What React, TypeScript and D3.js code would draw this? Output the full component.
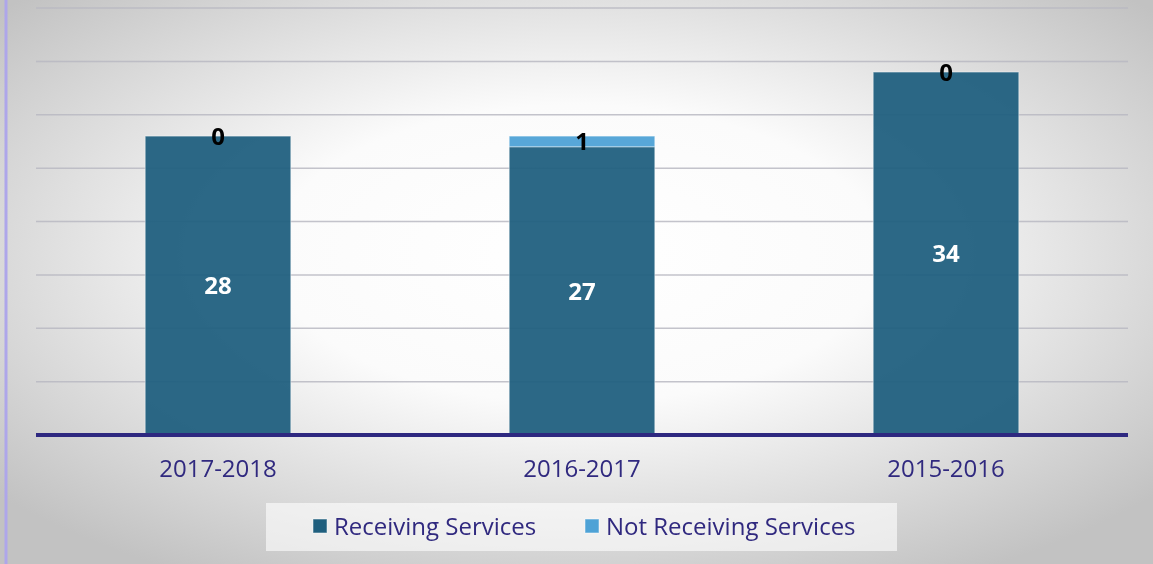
import { useEffect, useRef } from 'react';
import * as d3 from 'd3';

const years = ['2017-2018', '2016-2017', '2015-2016'];
const receiving = [28, 27, 34];
const notReceiving = [0, 1, 0];
const seriesNames = ['Receiving Services', 'Not Receiving Services'];
const seriesColors = ['#1f5f7e', '#4ea2d6'];
const yTicks = [0, 5, 10, 15, 20, 25, 30, 35, 40];

export default function App() {
  const svgRef = useRef<SVGSVGElement>(null);

  useEffect(() => {
    const W = 1153;
    const H = 564;
    const margin = { top: 8, right: 25, bottom: 129, left: 36 };
    const width = W - margin.left - margin.right;
    const height = H - margin.top - margin.bottom;

    const root = d3.select(svgRef.current);
    root.selectAll('*').remove();
    root.attr('width', W).attr('height', H).attr('viewBox', `0 0 ${W} ${H}`);

    // background gradient
    const defs = root.append('defs');
    const grad = defs
      .append('radialGradient')
      .attr('id', 'bg')
      .attr('cx', '0.5')
      .attr('cy', '0.45')
      .attr('r', '0.66');
    grad.append('stop').attr('offset', '0').attr('stop-color', '#ffffff');
    grad.append('stop').attr('offset', '0.4').attr('stop-color', '#fbfbfb');
    grad.append('stop').attr('offset', '1').attr('stop-color', '#c2c2c2');

    root.append('rect').attr('width', W).attr('height', H).attr('fill', 'url(#bg)');
    root
      .append('line')
      .attr('x1', 6)
      .attr('x2', 6)
      .attr('y1', 0)
      .attr('y2', H)
      .attr('stroke', '#aea6ea')
      .attr('stroke-width', 3);

    const svg = root.append('g').attr('transform', `translate(${margin.left},${margin.top})`);

    const x = d3.scaleBand().domain(years).range([0, width]).paddingInner(0.6).paddingOuter(0.3);
    const y = d3.scaleLinear().domain([0, 40]).range([height, 0]);

    // gridlines
    svg
      .selectAll('.grid')
      .data(yTicks.slice(1))
      .enter()
      .append('line')
      .attr('x1', 0)
      .attr('x2', width)
      .attr('y1', (d) => y(d))
      .attr('y2', (d) => y(d))
      .attr('stroke', '#b8b8c2')
      .attr('stroke-opacity', 0.85)
      .attr('stroke-width', 1.5);

    const rows = years.map((yr, i) => ({ year: yr, r: receiving[i], n: notReceiving[i] }));
    const stack = d3.stack<any>().keys(['r', 'n'])(rows);

    stack.forEach((layer, li) => {
      svg
        .selectAll(`.bar-${li}`)
        .data(layer)
        .enter()
        .append('rect')
        .attr('x', (d: any) => x(d.data.year)!)
        .attr('y', (d) => y(d[1]))
        .attr('width', x.bandwidth())
        .attr('height', (d) => y(d[0]) - y(d[1]))
        .attr('fill', seriesColors[li])
        .attr('fill-opacity', 0.94)
        .attr('stroke', '#ffffff')
        .attr('stroke-opacity', 0.45)
        .attr('stroke-width', 1);
    });

    // value labels
    stack.forEach((layer, li) => {
      svg
        .selectAll(`.lbl-${li}`)
        .data(layer)
        .enter()
        .append('text')
        .attr('x', (d: any) => x(d.data.year)! + x.bandwidth() / 2)
        .attr('y', (d) => (y(d[0]) + y(d[1])) / 2)
        .attr('dy', '0.36em')
        .attr('text-anchor', 'middle')
        .style('font-family', '"Open Sans", sans-serif')
        .style('font-size', '24px')
        .style('font-weight', 'bold')
        .style('fill', li === 0 ? '#ffffff' : '#000000')
        .text((d) => `${d[1] - d[0]}`);
    });

    // baseline
    svg
      .append('line')
      .attr('x1', 0)
      .attr('x2', width)
      .attr('y1', height)
      .attr('y2', height)
      .attr('stroke', '#2e2880')
      .attr('stroke-width', 4);

    // x labels
    svg
      .selectAll('.xl')
      .data(years)
      .enter()
      .append('text')
      .attr('x', (d) => x(d)! + x.bandwidth() / 2)
      .attr('y', height + 42)
      .attr('text-anchor', 'middle')
      .style('font-family', '"Open Sans", sans-serif')
      .style('font-size', '24px')
      .style('fill', '#30297f')
      .text((d) => d);

    // legend
    const lg = root.append('g');
    lg.append('rect')
      .attr('x', 266)
      .attr('y', 503)
      .attr('width', 631)
      .attr('height', 48)
      .attr('fill', '#ffffff')
      .attr('fill-opacity', 0.6);

    const legendX = [313, 585];
    seriesNames.forEach((name, i) => {
      lg.append('rect')
        .attr('x', legendX[i])
        .attr('y', 519)
        .attr('width', 14)
        .attr('height', 14)
        .attr('fill', seriesColors[i])
        .attr('stroke', '#ffffff')
        .attr('stroke-opacity', 0.5);
      lg.append('text')
        .attr('x', legendX[i] + 21)
        .attr('y', 535)
        .style('font-family', '"Open Sans", sans-serif')
        .style('font-size', '24px')
        .style('fill', '#30297f')
        .text(name);
    });
  }, []);

  return (
    <div style={{ position: 'fixed', left: 0, top: 0 }}>
      <svg ref={svgRef}></svg>
    </div>
  );
}
